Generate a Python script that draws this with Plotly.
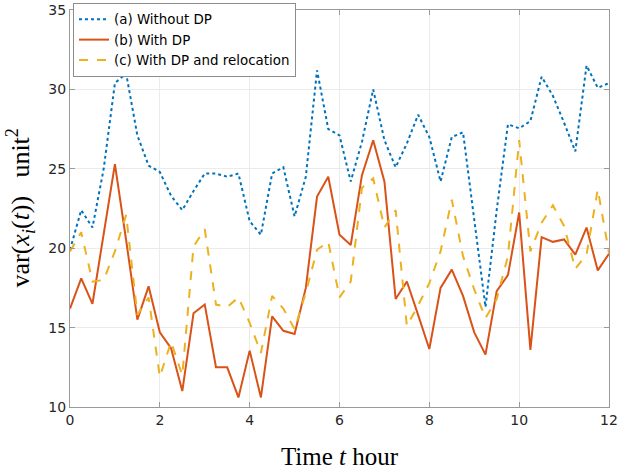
import plotly.graph_objects as go

t_hours = [i * 0.25 for i in range(49)]

var_without_dp = [19.9, 22.4, 21.3, 25.0, 30.4, 31.0, 27.1, 25.2, 24.8, 23.3,
                  22.4, 23.6, 24.7, 24.7, 24.5, 24.7, 21.7, 20.85, 24.7, 25.1,
                  22.0, 24.5, 31.2, 27.5, 27.1, 24.2, 26.7, 30.0, 26.8, 25.1,
                  26.6, 28.4, 27.0, 24.2, 27.0, 27.3, 21.8, 16.3, 22.4, 27.8,
                  27.55, 28.0, 30.8, 29.6, 27.9, 26.1, 31.5, 30.1, 30.4]

var_with_dp = [16.2, 18.1, 16.5, 20.9, 25.3, 20.5, 15.5, 17.6, 14.7, 13.7,
               11.0, 15.9, 16.45, 12.5, 12.5, 10.6, 13.55, 10.6, 15.7, 14.8,
               14.6, 17.5, 23.25, 24.5, 20.85, 20.2, 24.6, 26.8, 24.2, 16.8,
               17.9, 15.8, 13.65, 17.5, 18.65, 17.0, 14.7, 13.3, 17.3, 18.3,
               22.25, 13.6, 20.7, 20.4, 20.55, 19.6, 21.3, 18.6, 19.65]

var_with_dp_reloc = [19.8, 21.0, 17.9, 18.0, 19.8, 22.1, 15.8, 16.9, 11.9, 14.1,
                     12.0, 20.1, 21.2, 16.45, 16.3, 16.9, 15.3, 13.4, 17.0, 16.2,
                     14.9, 17.2, 19.9, 20.4, 16.9, 17.9, 23.8, 24.4, 21.3, 22.4,
                     15.1, 16.4, 17.8, 19.8, 23.05, 19.5, 17.4, 15.6, 16.8, 19.5,
                     26.8, 19.8, 21.6, 22.7, 21.4, 18.7, 19.6, 23.7, 19.7]

series_names = ["(a) Without DP", "(b) With DP", "(c) With DP and relocation"]
x_ticks = [0, 2, 4, 6, 8, 10, 12]
y_ticks = [10, 15, 20, 25, 30, 35]

fig = go.Figure()
fig.add_trace(go.Scatter(x=t_hours, y=var_without_dp, mode="lines", name=series_names[0],
                         line=dict(color="#0072BD", width=2, dash="dot")))
fig.add_trace(go.Scatter(x=t_hours, y=var_with_dp, mode="lines", name=series_names[1],
                         line=dict(color="#D95319", width=2)))
fig.add_trace(go.Scatter(x=t_hours, y=var_with_dp_reloc, mode="lines", name=series_names[2],
                         line=dict(color="#EDB120", width=2, dash="dash")))

axis_common = dict(
    showgrid=True, gridcolor="#ebebeb", gridwidth=1,
    showline=True, linecolor="#9a9a9a", linewidth=1, mirror="ticks",
    ticks="inside", ticklen=5, tickcolor="#9a9a9a",
    zeroline=False, automargin=False,
    tickfont=dict(family="DejaVu Sans", size=14, color="#262626"),
)

fig.update_xaxes(range=[0, 12], tickvals=x_ticks, **axis_common,
                 title=dict(text="Time <i>t</i> hour",
                            font=dict(family="Liberation Serif", size=25, color="#000000"),
                            standoff=20))
fig.update_yaxes(range=[10, 35], tickvals=y_ticks, **axis_common)

fig.add_annotation(
    text="var(<i>x<sub>i</sub></i>(<i>t</i>))&#8194;&#8201;unit<sup>2</sup>",
    xref="paper", yref="paper", x=(20 - 70) / 539, y=0.5,
    xanchor="center", yanchor="middle", textangle=-90, showarrow=False,
    font=dict(family="Liberation Serif", size=26, color="#000000"),
)

fig.update_layout(
    width=620, height=474,
    margin=dict(l=70, r=11, t=10, b=67, autoexpand=False),
    paper_bgcolor="white", plot_bgcolor="white",
    showlegend=True,
    legend=dict(x=73 / 620, y=1 - 3 / 474, xref="container", yref="container",
                xanchor="left", yanchor="top",
                bgcolor="white", bordercolor="#8c8c8c", borderwidth=1,
                font=dict(family="DejaVu Sans", size=13.4, color="#000000"),
                tracegroupgap=0, itemwidth=30),
)

fig.write_html("out.html")
